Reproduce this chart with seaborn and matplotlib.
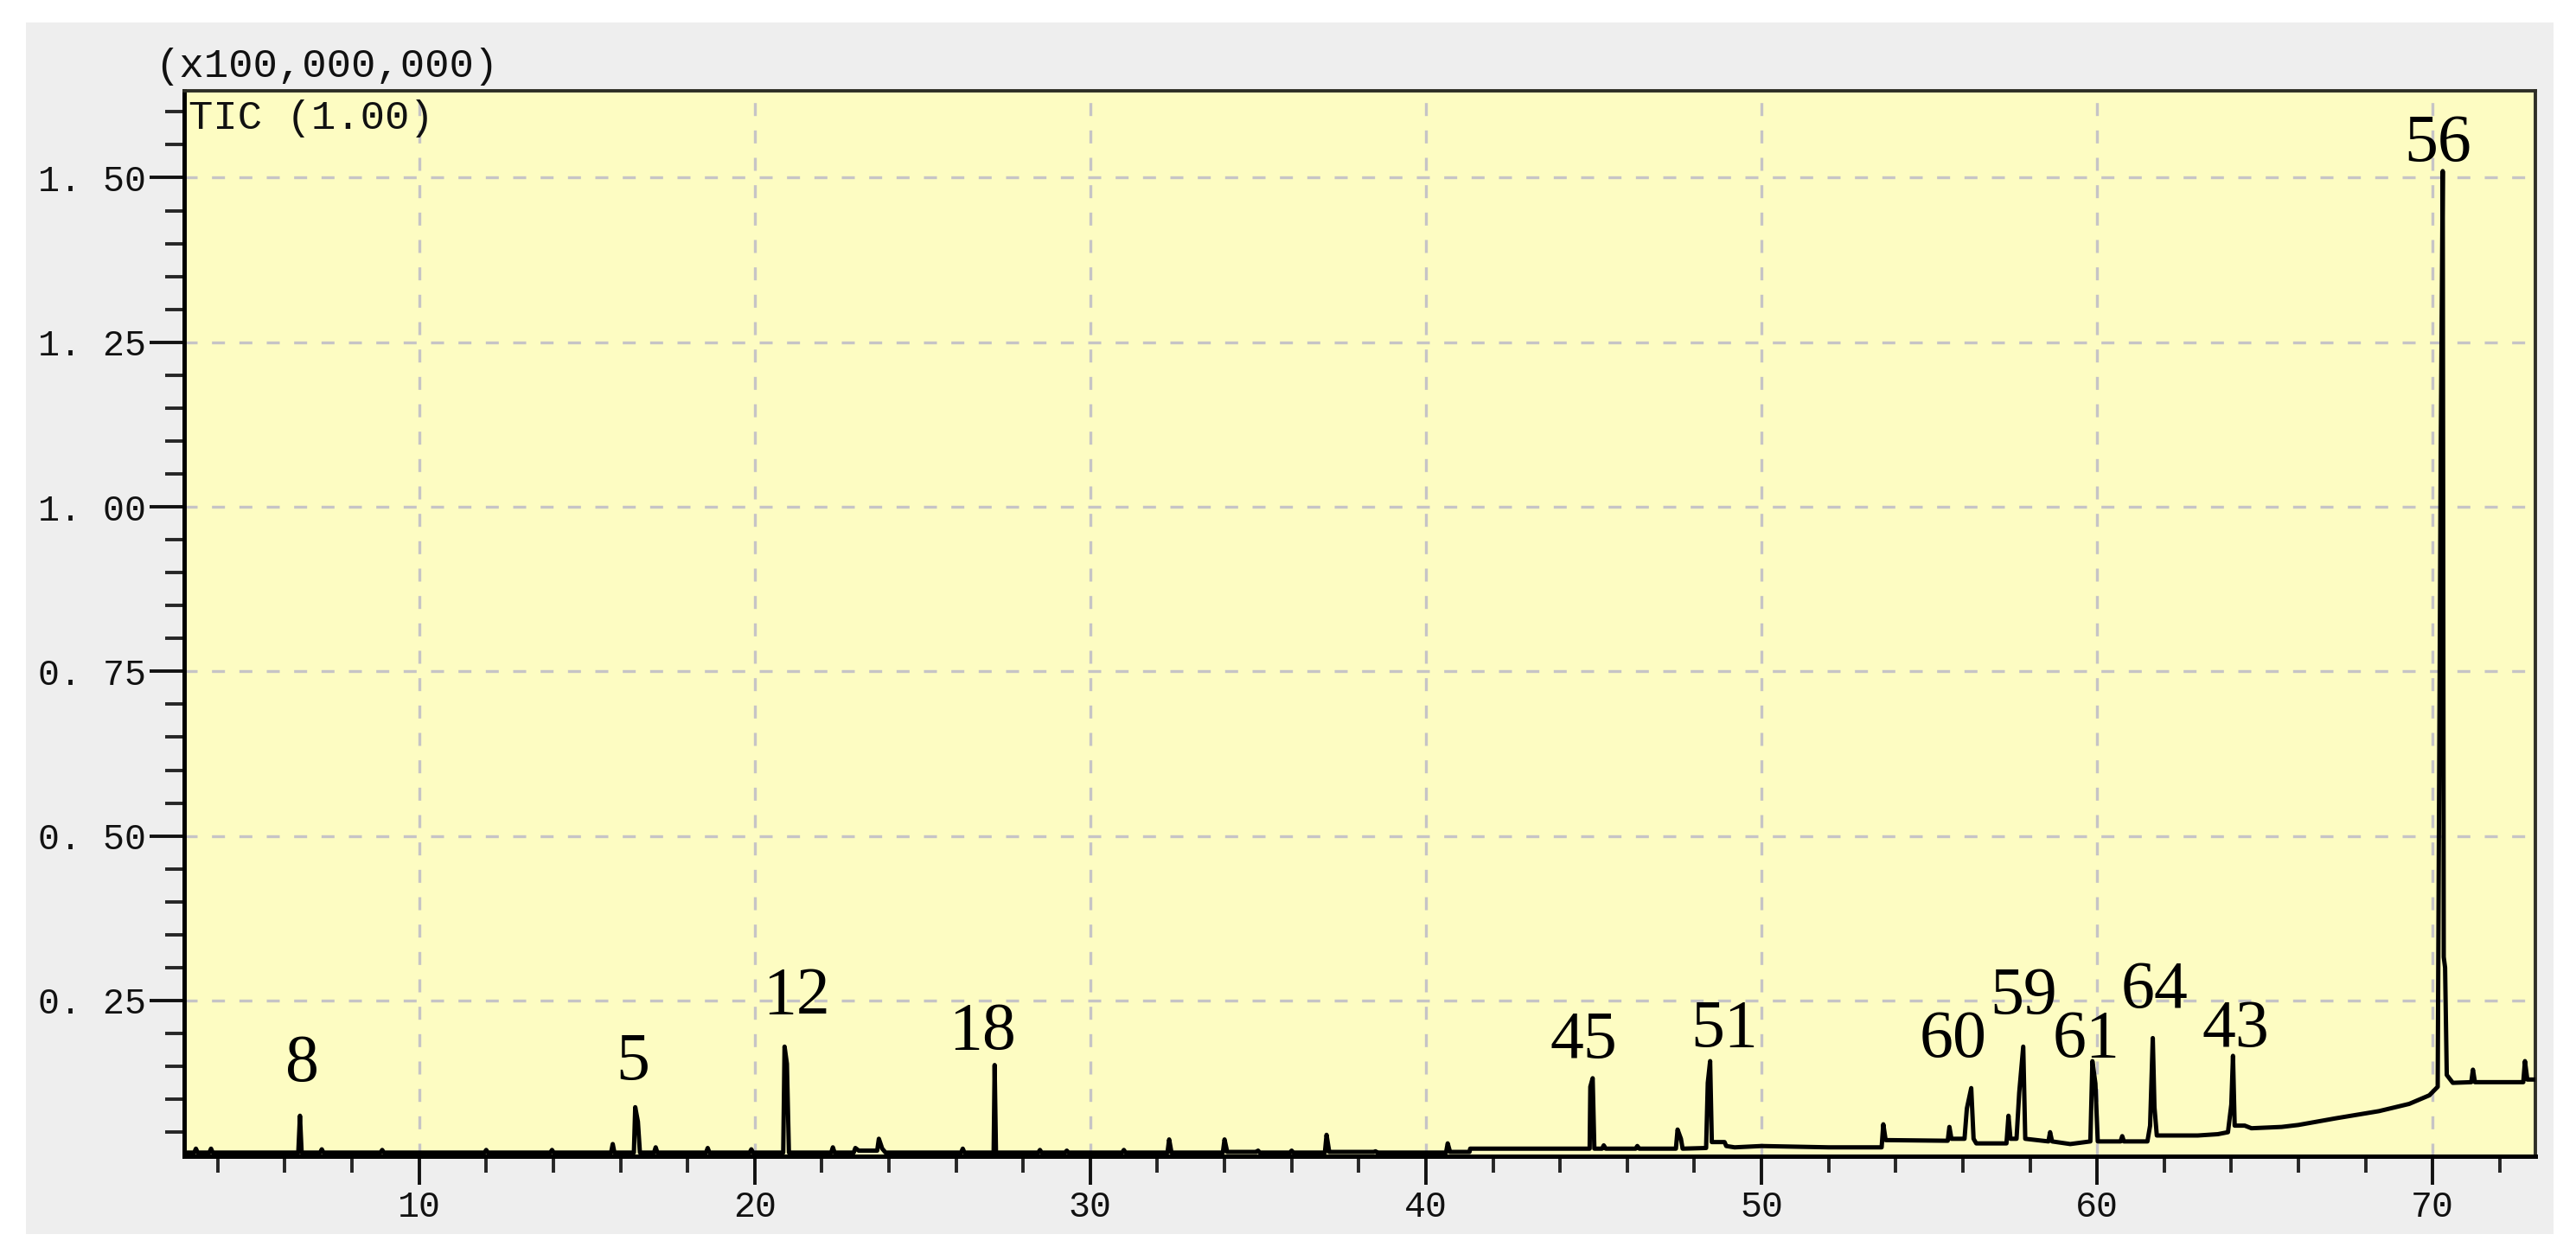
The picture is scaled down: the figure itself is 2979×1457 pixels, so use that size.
"""
TIC chromatogram (GC-MS) redrawn with seaborn.
Writes out.png.
"""

import matplotlib
matplotlib.use("Agg")
import matplotlib.pyplot as plt
from matplotlib.patches import Rectangle
from matplotlib.ticker import MultipleLocator, FixedLocator
import pandas as pd
import seaborn as sns


# Trace vertices: retention time (min), TIC (x1e8)
rt = [
    3.00, 3.30, 3.35, 3.40, 3.75, 3.80, 3.85, 6.40, 6.45, 6.50,
    7.05, 7.10, 7.15, 8.85, 8.90, 8.95, 11.95, 12.00, 12.05, 13.91,
    13.96, 14.01, 15.72, 15.77, 15.82, 16.40, 16.44, 16.52, 16.58, 17.00,
    17.05, 17.10, 18.55, 18.60, 18.65, 19.85, 19.90, 19.95, 20.85, 20.89,
    20.96, 21.02, 22.28, 22.33, 22.38, 22.95, 23.00, 23.10, 23.65, 23.70,
    23.80, 23.90, 26.15, 26.20, 26.25, 27.12, 27.15, 27.19, 28.45, 28.50,
    28.55, 29.25, 29.30, 29.35, 30.95, 31.00, 31.05, 32.30, 32.35, 32.42,
    33.95, 34.00, 34.08, 34.95, 35.00, 35.05, 35.95, 36.00, 36.05, 36.99,
    37.04, 37.12, 38.45, 38.50, 38.55, 40.60, 40.65, 40.72, 41.30, 41.32,
    44.88, 44.90, 44.97, 45.02, 45.25, 45.30, 45.36, 46.25, 46.30, 46.36,
    47.45, 47.50, 47.60, 47.65, 48.35, 48.40, 48.47, 48.52, 48.90, 48.95,
    49.20, 50.00, 51.00, 52.00, 53.58, 53.63, 53.70, 55.55, 55.60, 55.66,
    56.05, 56.12, 56.25, 56.32, 56.40, 57.30, 57.36, 57.42, 57.60, 57.68,
    57.80, 57.86, 58.55, 58.60, 58.66, 59.20, 59.80, 59.86, 59.95, 60.02,
    60.70, 60.75, 60.80, 61.50, 61.58, 61.66, 61.71, 61.78, 63.00, 63.60,
    63.90, 64.00, 64.05, 64.10, 64.40, 64.60, 65.50, 66.00, 67.10, 68.40,
    69.30, 69.90, 70.15, 70.24, 70.30, 70.33, 70.37, 70.42, 70.60, 71.15,
    71.20, 71.26, 72.70, 72.75, 72.82, 73.06,
]
tic = [
    0.019, 0.019, 0.025, 0.019, 0.019, 0.025, 0.019, 0.019, 0.075, 0.019,
    0.019, 0.024, 0.019, 0.019, 0.023, 0.019, 0.019, 0.023, 0.019, 0.019,
    0.023, 0.019, 0.019, 0.032, 0.019, 0.019, 0.088, 0.066, 0.019, 0.019,
    0.027, 0.019, 0.019, 0.026, 0.019, 0.019, 0.024, 0.019, 0.019, 0.180,
    0.154, 0.019, 0.019, 0.027, 0.019, 0.019, 0.026, 0.022, 0.022, 0.040,
    0.025, 0.019, 0.019, 0.025, 0.019, 0.019, 0.152, 0.019, 0.019, 0.023,
    0.019, 0.019, 0.022, 0.019, 0.019, 0.023, 0.019, 0.019, 0.039, 0.019,
    0.019, 0.039, 0.020, 0.020, 0.022, 0.019, 0.019, 0.022, 0.019, 0.019,
    0.046, 0.020, 0.020, 0.021, 0.019, 0.019, 0.033, 0.020, 0.020, 0.025,
    0.025, 0.119, 0.132, 0.025, 0.025, 0.030, 0.025, 0.025, 0.029, 0.025,
    0.025, 0.054, 0.040, 0.025, 0.026, 0.125, 0.158, 0.035, 0.035, 0.029,
    0.027, 0.029, 0.028, 0.027, 0.027, 0.062, 0.038, 0.037, 0.058, 0.040,
    0.040, 0.086, 0.117, 0.040, 0.033, 0.033, 0.075, 0.040, 0.040, 0.110,
    0.180, 0.040, 0.036, 0.050, 0.036, 0.032, 0.036, 0.158, 0.124, 0.036,
    0.036, 0.044, 0.036, 0.036, 0.060, 0.193, 0.088, 0.045, 0.045, 0.047,
    0.050, 0.092, 0.166, 0.060, 0.060, 0.056, 0.058, 0.061, 0.071, 0.082,
    0.093, 0.106, 0.119, 1.083, 1.510, 0.316, 0.300, 0.137, 0.125, 0.126,
    0.145, 0.126, 0.126, 0.158, 0.130, 0.130,
]

# Peak numbers and where they sit (label centre rt, label baseline TIC)
peak_labels = ["8", "5", "12", "18", "45", "51", "60", "59", "61", "64", "43", "56"]
label_rt = [6.52, 16.36, 21.25, 26.77, 44.69, 48.90, 55.70, 57.82, 59.67, 61.71, 64.13, 70.16]
label_tic = [0.128, 0.130, 0.230, 0.177, 0.163, 0.180, 0.165, 0.230, 0.165, 0.240, 0.180, 1.525]

y_ticks = [0.25, 0.50, 0.75, 1.00, 1.25, 1.50]
y_tick_labels = ["0. 25", "0. 50", "0. 75", "1. 00", "1. 25", "1. 50"]

W, H = 2979, 1457
MONO = ["Liberation Mono", "DejaVu Sans Mono"]
SERIF = ["Liberation Serif", "DejaVu Serif"]


def main():
    sns.set_theme(style="ticks")
    plt.rcParams["font.family"] = MONO

    df = pd.DataFrame({"rt": rt, "tic": tic})

    fig = plt.figure(figsize=(W / 100, H / 100), dpi=100, facecolor="white")
    # grey instrument-software panel behind the plot
    fig.patches.append(Rectangle((30 / W, 1 - 1427 / H), (2953 - 30) / W, (1427 - 26) / H,
                                 transform=fig.transFigure, facecolor="#eeeeee",
                                 edgecolor="none", zorder=-10))

    ax = fig.add_axes([213 / W, 1 - 1337 / H, (2932 - 213) / W, (1337 - 105) / H])
    ax.set_zorder(1)
    ax.set_facecolor("#fdfcc2")

    sns.lineplot(data=df, x="rt", y="tic", estimator=None, sort=False,
                 color="black", linewidth=3.6, ax=ax, zorder=3)

    ax.set_xlim(3.0, 73.06)
    ax.set_ylim(0.0135, 1.632)

    ax.xaxis.set_major_locator(MultipleLocator(10))
    ax.xaxis.set_minor_locator(MultipleLocator(2))
    ax.yaxis.set_major_locator(FixedLocator(y_ticks))
    ax.set_yticklabels(y_tick_labels)
    ax.yaxis.set_minor_locator(MultipleLocator(0.05))

    ax.set_xlabel("")
    ax.set_ylabel("")

    ax.grid(True, which="major", color="#c6c4c6", linestyle=(0, (4.5, 5)), linewidth=2.4)
    ax.set_axisbelow(True)

    ax.tick_params(axis="x", which="major", direction="out", length=24, width=2.8,
                   pad=4, labelsize=30, colors="#111111")
    ax.tick_params(axis="x", which="minor", direction="out", length=14, width=2.8)
    ax.tick_params(axis="y", which="major", direction="out", length=29, width=2.8,
                   pad=3, labelsize=30, colors="#111111")
    ax.tick_params(axis="y", which="minor", direction="out", length=16, width=2.8)

    for side in ["left", "bottom"]:
        ax.spines[side].set_linewidth(3.6)
        ax.spines[side].set_color("black")
    for side in ["top", "right"]:
        ax.spines[side].set_linewidth(2.8)
        ax.spines[side].set_color("#2e2e26")

    # peak numbers
    for lab, x, y in zip(peak_labels, label_rt, label_tic):
        ax.text(x, y, lab, ha="center", va="baseline", fontsize=56,
                family=SERIF, color="black", zorder=4)

    # software header texts
    fig.text(179 / W, 1 - 99 / H, "(x100,000,000)", ha="left", va="bottom",
             fontsize=34, color="#111111")
    ax.text(0.002, 0.992, "TIC (1.00)", transform=ax.transAxes, ha="left", va="top",
            fontsize=34, color="#111111")

    fig.savefig("out.png", dpi=100, facecolor=fig.get_facecolor())
    plt.close(fig)


if __name__ == "__main__":
    main()
